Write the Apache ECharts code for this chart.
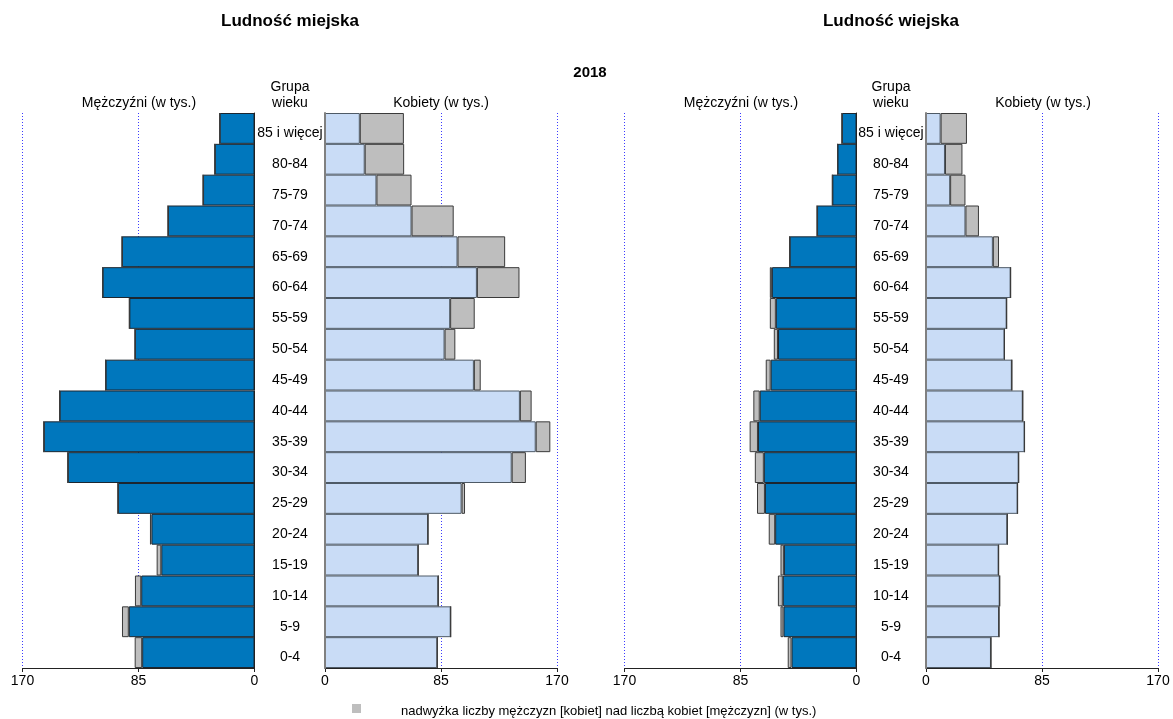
<!DOCTYPE html>
<html>
<head>
<meta charset="utf-8">
<script src="https://cdn.jsdelivr.net/npm/echarts@6/dist/echarts.min.js"></script>
<style>
html,body{margin:0;padding:0;background:#fff;}
#chart{width:1173px;height:719px;}
</style>
</head>
<body>
<div id="chart"></div>
<script>
// Age groups (bottom -> top)
const ageGroups = ['0-4','5-9','10-14','15-19','20-24','25-29','30-34','35-39','40-44','45-49','50-54','55-59','60-64','65-69','70-74','75-79','80-84','85 i więcej'];
// Ludność miejska (w tys.)
const urbanMen   = [87.8, 97.1, 87.6, 71.7, 76.6, 100.1, 136.8, 154.4, 142.8, 109.1, 87.6, 91.7, 111.3, 97.1, 63.4, 37.7, 29.1, 25.5];
const urbanWomen = [82.3, 92.1, 83.0, 68.3, 75.5, 102.6, 147.2, 165.1, 151.4, 114.1, 95.5, 109.7, 142.5, 132.0, 94.3, 63.4, 58.0, 57.8];
// Ludność wiejska (w tys.)
const ruralMen   = [50.4, 55.7, 57.6, 55.7, 64.3, 72.9, 74.5, 78.3, 75.6, 66.5, 60.6, 63.5, 63.5, 49.0, 28.9, 17.7, 13.9, 10.7];
const ruralWomen = [47.6, 53.5, 54.0, 53.2, 59.6, 67.1, 67.9, 72.2, 70.9, 62.9, 57.5, 59.1, 62.0, 53.5, 38.8, 28.9, 26.7, 30.0];
// Axis ticks
const axisMin = 0, axisMax = 170, axisStep = 85;

const FONT = "'Liberation Sans', Arial, sans-serif";
const BLUE = '#0077BD', LIGHT = '#C9DCF6', GREY = '#BEBEBE';

const base = (a, b) => a.map((v, i) => Math.min(v, b[i]));
const excess = (a, b) => a.map((v, i) => Math.max(0, +(v - b[i]).toFixed(1)));

const grids = [
  {left: 22.5, top: 113, width: 232, height: 555},
  {left: 325, top: 113, width: 232, height: 555},
  {left: 624.5, top: 113, width: 232, height: 555},
  {left: 926, top: 113, width: 232, height: 555}
];

function xAxis(i, inverse) {
  return {
    type: 'value', gridIndex: i, min: axisMin, max: axisMax, interval: axisStep, inverse: inverse,
    axisLine: {show: true, lineStyle: {color: '#222', width: 1}},
    axisTick: {show: true, length: 4, lineStyle: {color: '#222'}},
    axisLabel: {fontFamily: FONT, fontSize: 14, color: '#000', margin: 6},
    splitLine: {show: true, lineStyle: {color: '#3b3bff', type: [1, 2], width: 1}}
  };
}
function yAxis(i, isMen, labelMargin) {
  return {
    type: 'category', gridIndex: i, data: ageGroups,
    position: isMen ? 'right' : 'left',
    axisLine: {show: true, onZero: false, lineStyle: isMen ? {color: '#222', width: 1} : {color: '#808080', width: 2}},
    axisTick: {show: false},
    axisLabel: isMen ? {show: false} : {show: true, align: 'center', verticalAlign: 'top', lineHeight: 10, margin: labelMargin, fontFamily: FONT, fontSize: 14, color: '#000'},
    splitLine: {show: false}, z: 5
  };
}
function bars(i, baseData, exData, isMen) {
  return [
    {type: 'bar', xAxisIndex: i, yAxisIndex: i, stack: 's' + i, data: baseData, barCategoryGap: 0,
     itemStyle: {color: isMen ? BLUE : LIGHT, borderColor: isMen ? '#1c2630' : '#4e5a66', borderWidth: 1}},
    {type: 'bar', xAxisIndex: i, yAxisIndex: i, stack: 's' + i, data: exData, barCategoryGap: 0,
     itemStyle: {color: GREY, borderColor: '#3a3a3a', borderWidth: 1}}
  ];
}

function txt(x, y, text, size, bold, align) {
  return {type: 'text', x: x, y: y, z: 10, style: {text: text, fontFamily: FONT, fontSize: size, fontWeight: bold ? 'bold' : 'normal', fill: '#000', align: align || 'center', verticalAlign: 'middle'}};
}

const option = {
  animation: false,
  backgroundColor: '#fff',
  grid: grids,
  xAxis: [xAxis(0, true), xAxis(1, false), xAxis(2, true), xAxis(3, false)],
  yAxis: [yAxis(0, true), yAxis(1, false, 35), yAxis(2, true), yAxis(3, false, 35)],
  series: [].concat(
    bars(0, base(urbanMen, urbanWomen), excess(urbanMen, urbanWomen), true),
    bars(1, base(urbanWomen, urbanMen), excess(urbanWomen, urbanMen), false),
    bars(2, base(ruralMen, ruralWomen), excess(ruralMen, ruralWomen), true),
    bars(3, base(ruralWomen, ruralMen), excess(ruralWomen, ruralMen), false)
  ),
  graphic: [
    txt(290, 21, 'Ludność miejska', 17, true),
    txt(891, 21, 'Ludność wiejska', 17, true),
    txt(590, 73, '2018', 15, true),
    txt(290, 87, 'Grupa', 14, false),
    txt(290, 103, 'wieku', 14, false),
    txt(891, 87, 'Grupa', 14, false),
    txt(891, 103, 'wieku', 14, false),
    txt(139, 103, 'Mężczyźni (w tys.)', 14, false),
    txt(441, 103, 'Kobiety (w tys.)', 14, false),
    txt(741, 103, 'Mężczyźni (w tys.)', 14, false),
    txt(1043, 103, 'Kobiety (w tys.)', 14, false),
    {type: 'rect', shape: {x: 352, y: 704, width: 9, height: 9}, style: {fill: GREY}},
    txt(401, 711, 'nadwyżka liczby mężczyzn [kobiet] nad liczbą kobiet [mężczyzn] (w tys.)', 13, false, 'left')
  ]
};

const chart = echarts.init(document.getElementById('chart'), null, {renderer: 'canvas'});
chart.setOption(option);
</script>
</body>
</html>
